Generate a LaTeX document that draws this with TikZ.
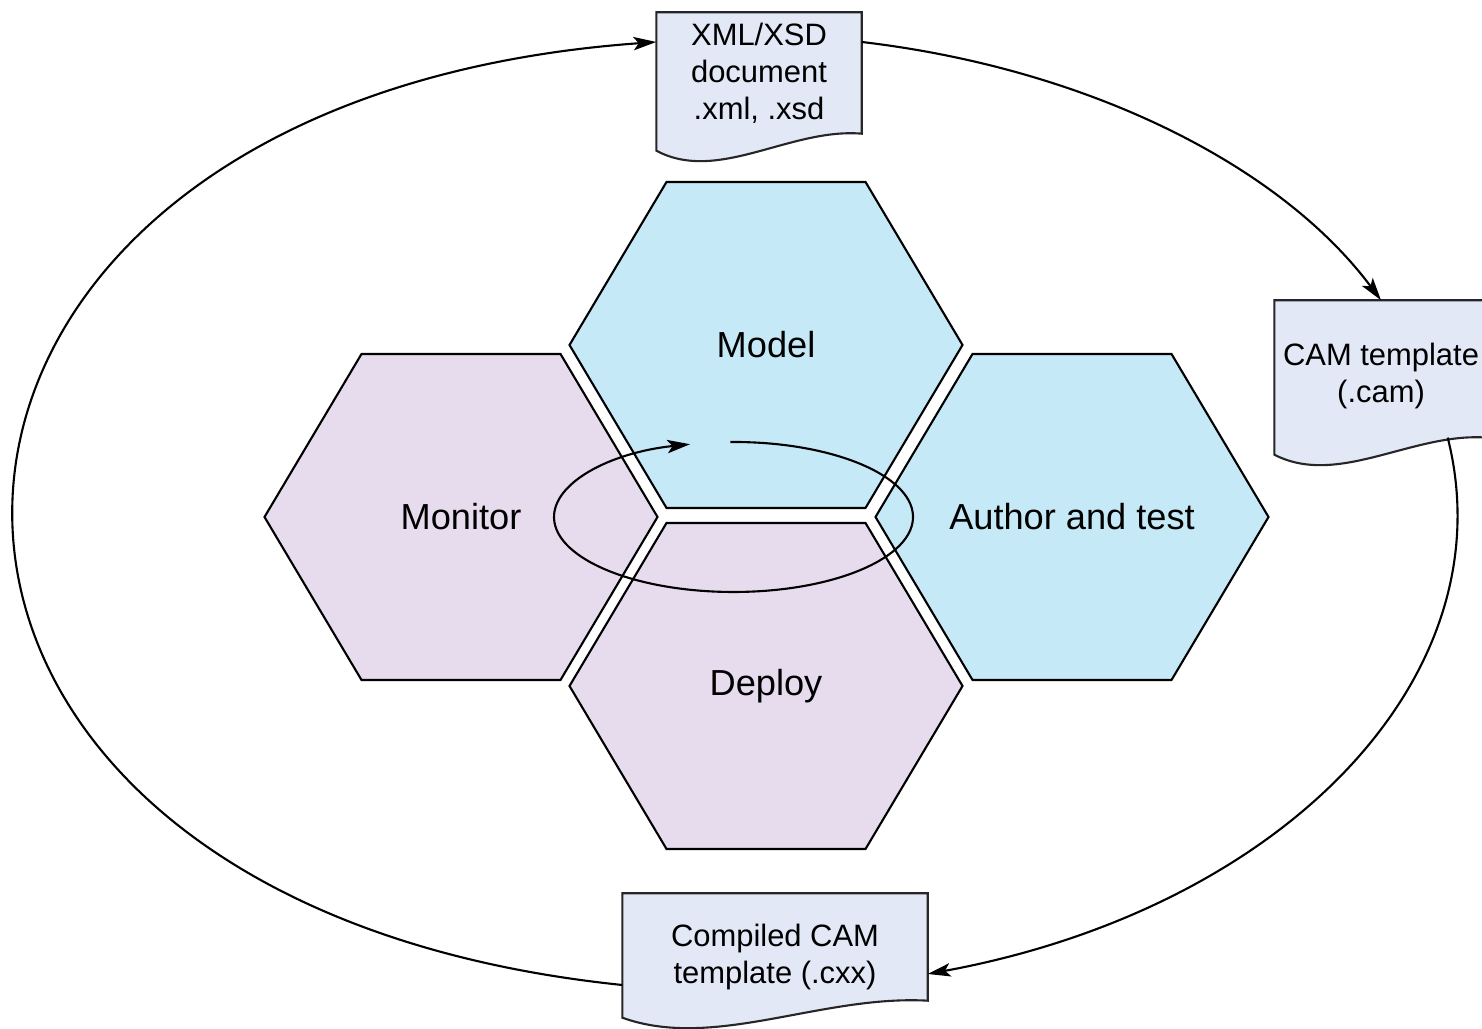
\documentclass[tikz,border=0pt]{standalone}
\usepackage{fontspec}
\setmainfont{Liberation Sans}
\usetikzlibrary{arrows.meta,calc,backgrounds}

\definecolor{hexblue}{RGB}{198,233,248}
\definecolor{hexpurple}{RGB}{230,220,237}
\definecolor{docfill}{RGB}{227,232,246}

\tikzset{
  hexlabel/.style={font=\fontsize{10.3}{12}\selectfont},
  doctext/.style={align=center, inner sep=0pt, font=\fontsize{8.8}{10.5}\selectfont},
  docline/.style={draw=black!85, fill=docfill, line width=0.6pt},
  cycleline/.style={line width=0.6pt, -{Stealth[length=6.5pt,width=3.8pt,inset=1.5pt]}},
}

% strut that pushes the text of a page down a little
\newcommand{\topstrut}[1]{\rule{0pt}{#1}}

% page outline with a wavy bottom edge below a node
\newcommand{\docpage}[1]{%
  \draw[docline] (#1.north west) -- (#1.north east) -- (#1.south east)
    .. controls ($(#1.south east)!0.35!(#1.south west)+(0,0.06)$)
       and ($(#1.south west)!0.3!(#1.south east)+(0,-0.5)$) ..
    ([yshift=-0.17cm]#1.south west) -- cycle;}

\begin{document}
\begin{tikzpicture}
  \useasboundingbox (0,0) rectangle (14.82,10.29);
  % four hexagons round the centre
  \foreach \name/\x/\y/\col/\lab in {model/7.66/6.84/hexblue/Model,
      monitor/4.61/5.12/hexpurple/Monitor,
      author/10.72/5.12/hexblue/Author and test,
      deploy/7.66/3.43/hexpurple/Deploy} {
    \draw[fill=\col, line width=0.6pt] (\x,\y) ++(-1.965,0) -- ++(0.97,1.63) -- ++(1.99,0)
      -- ++(0.97,-1.63) -- ++(-0.97,-1.63) -- ++(-1.99,0) -- cycle;
    \node[hexlabel] (\name) at (\x,\y) {\lab};
  }
  % documents
  \node[doctext, minimum width=2.04cm, minimum height=1.2cm] (xml) at (7.59,9.56) {XML/XSD\\document\\.xml, .xsd};
  \node[doctext, minimum width=2.12cm, minimum height=1.36cm] (cam) at (13.81,6.60) {\topstrut{10.4pt}CAM template\\(.cam)};
  \node[doctext, minimum width=3.04cm, minimum height=1.06cm] (cxx) at (7.75,0.82) {\topstrut{12.1pt}Compiled CAM\\template (.cxx)};
  \begin{scope}[on background layer]
    \foreach \doc in {xml,cam,cxx} {\docpage{\doc}}
  \end{scope}
  % outer cycle
  \draw[cycleline] ([yshift=0.31cm]xml.east) .. controls +(-6.7:2.27) and +(126.7:1.69) .. (cam.north);
  \draw[cycleline] ([xshift=-0.4cm]cam.south east) .. controls +(-75.8:2.47) and +(10.4:3.61) .. ([yshift=-0.27cm]cxx.east);
  \draw[cycleline] ([yshift=-0.38cm]cxx.west) .. controls +(174.1:8.35) and +(-175.9:8.38) .. ([yshift=0.31cm]xml.west);
  % inner loop
  \draw[cycleline] (7.335,5.12) ++(91:1.795cm and 0.75cm)
    arc[start angle=91, end angle=-256, x radius=1.795, y radius=0.75];
\end{tikzpicture}
\end{document}
